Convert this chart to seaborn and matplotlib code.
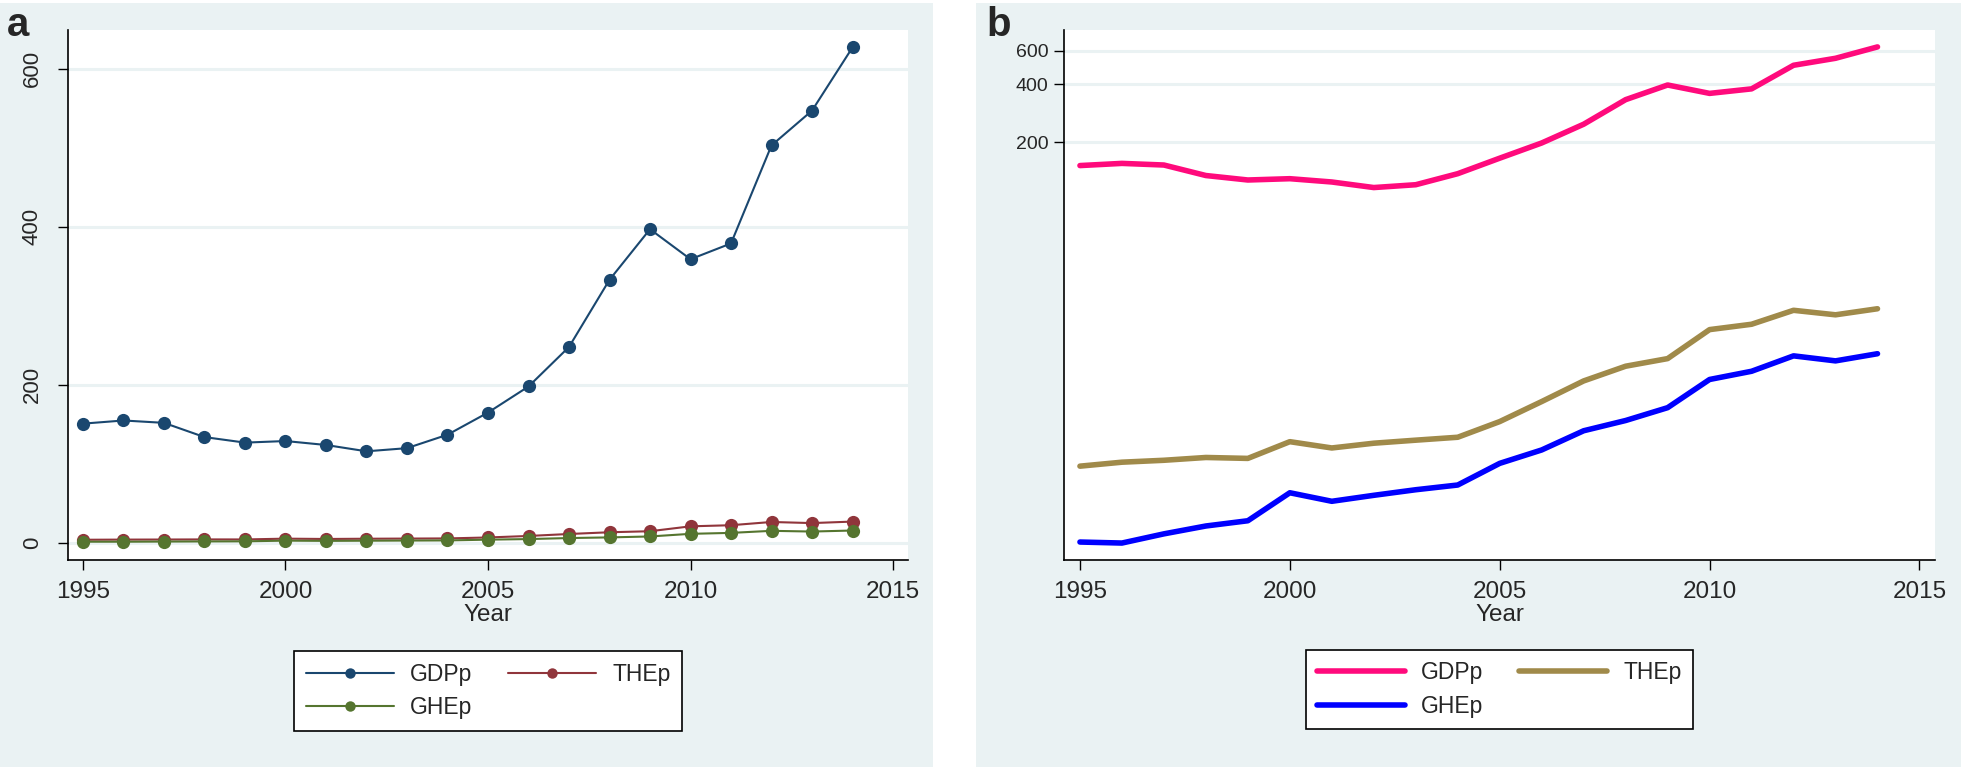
import numpy as np
import pandas as pd
import matplotlib
matplotlib.use("Agg")
import matplotlib.pyplot as plt
import seaborn as sns
from matplotlib.patches import Rectangle
from matplotlib.ticker import FixedLocator, FixedFormatter, NullLocator

# ── data ─────────────────────────────────────────────────────────
years = list(range(1995, 2015))
gdpp = [151, 155, 152, 134, 127, 129, 124, 116, 120, 137,
        165, 198, 248, 333, 397, 359, 379, 503, 547, 627]
thep = [4.1, 4.3, 4.4, 4.55, 4.5, 5.5, 5.1, 5.4, 5.6, 5.8,
        7.0, 8.9, 11.4, 13.6, 14.9, 21.1, 22.5, 26.6, 25.2, 27.1]
ghep = [1.65, 1.63, 1.82, 2.0, 2.13, 2.98, 2.69, 2.89, 3.09, 3.27,
        4.24, 4.98, 6.27, 7.09, 8.27, 11.6, 12.8, 15.4, 14.5, 15.8]
series = ["GDPp", "THEp", "GHEp"]
legend_order = ["GDPp", "GHEp", "THEp"]  # ncol=2 fills column-wise

yticks_a = [0, 200, 400, 600]
yticks_b = [200, 400, 600]
xticks = [1995, 2000, 2005, 2010, 2015]

colors_a = {"GDPp": "#1a476f", "THEp": "#90353b", "GHEp": "#55752f"}
colors_b = {"GDPp": "#ff0a7c", "THEp": "#a08a4a", "GHEp": "#0000ff"}

df = pd.DataFrame({"Year": years, "GDPp": gdpp, "THEp": thep, "GHEp": ghep})
long = df.melt(id_vars="Year", var_name="series", value_name="value")

sns.set_style("ticks")
plt.rcParams["font.family"] = ["Liberation Sans", "DejaVu Sans"]

W, H = 1961, 770
BG = "#eaf2f3"
fig = plt.figure(figsize=(W / 100, H / 100), dpi=100)
fig.patch.set_facecolor("white")


def px_axes(l, r, t, b):
    return fig.add_axes([l / W, (H - b) / H, (r - l) / W, (b - t) / H])


# panel backgrounds
for x0, x1 in [(0, 933), (976, 1961)]:
    fig.patches.append(Rectangle((x0 / W, 3 / H), (x1 - x0) / W, 764 / H,
                                 transform=fig.transFigure, facecolor=BG,
                                 edgecolor="none", zorder=-10))

ax_a = px_axes(68, 908, 30, 560)
ax_b = px_axes(1064, 1935, 30, 560)

# ── panel a ──────────────────────────────────────────────────────
for s in series:
    sub = long[long.series == s]
    sns.lineplot(data=sub, x="Year", y="value", ax=ax_a, color=colors_a[s],
                 lw=1.5, marker="o", markersize=9.5, markeredgewidth=0,
                 label=s, legend=False)
ax_a.set_xlim(1994.63, 2015.37)
ax_a.set_ylim(-21.5, 649)
ax_a.set_yticks(yticks_a)
for lab in ax_a.get_yticklabels():
    lab.set_rotation(90)
    lab.set_va("center")

# ── panel b (log scale) ──────────────────────────────────────────
for s in series:
    sub = long[long.series == s]
    sns.lineplot(data=sub, x="Year", y="value", ax=ax_b, color=colors_b[s],
                 lw=4.0, label=s, legend=False)
ax_b.set_yscale("log")
ax_b.set_xlim(1994.62, 2015.37)
ax_b.set_ylim(1.33, 768)
ax_b.yaxis.set_major_locator(FixedLocator(yticks_b))
ax_b.yaxis.set_major_formatter(FixedFormatter([str(v) for v in yticks_b]))
ax_b.yaxis.set_minor_locator(NullLocator())

for ax, ysize, ypad in [(ax_a, 16, 11), (ax_b, 14, 4)]:
    ax.set_facecolor("white")
    ax.set_xticks(xticks)
    ax.grid(axis="y", color=BG, lw=2.2)
    ax.grid(axis="x", visible=False)
    ax.set_axisbelow(True)
    for sp in ["top", "right"]:
        ax.spines[sp].set_visible(False)
    for sp in ["left", "bottom"]:
        ax.spines[sp].set_color("black")
        ax.spines[sp].set_linewidth(1.2)
    ax.tick_params(axis="x", length=7, width=1, color="black",
                   labelsize=17.5, pad=8)
    ax.tick_params(axis="y", length=7, width=1, color="black",
                   labelsize=ysize, pad=ypad)
    ax.set_xlabel("Year", fontsize=17.5, labelpad=1)
    ax.set_ylabel("")

# ── legends ──────────────────────────────────────────────────────
for ax, cx, cy in [(ax_a, 488, 691), (ax_b, 1499.5, 689.5)]:
    h, l = ax.get_legend_handles_labels()
    hd = dict(zip(l, h))
    leg = ax.legend([hd[k] for k in legend_order], legend_order,
                    loc="center", bbox_to_anchor=(cx / W, (H - cy) / H),
                    bbox_transform=fig.transFigure, ncol=2, fontsize=16.5,
                    frameon=True, fancybox=False, framealpha=1,
                    facecolor="white", edgecolor="black",
                    handlelength=3.85, handletextpad=0.7, columnspacing=1.55,
                    labelspacing=0.45, borderpad=0.5, markerfirst=True)
    leg.get_frame().set_linewidth(1.2)
    for lh in leg.legend_handles:
        lh.set_markersize(7.5)

fig.text(7 / W, (H - 36) / H, "a", fontsize=29, fontweight="bold",
         ha="left", va="baseline")
fig.text(986 / W, (H - 36) / H, "b", fontsize=29, fontweight="bold",
         ha="left", va="baseline")

fig.savefig("out.png", dpi=100, facecolor="white")
